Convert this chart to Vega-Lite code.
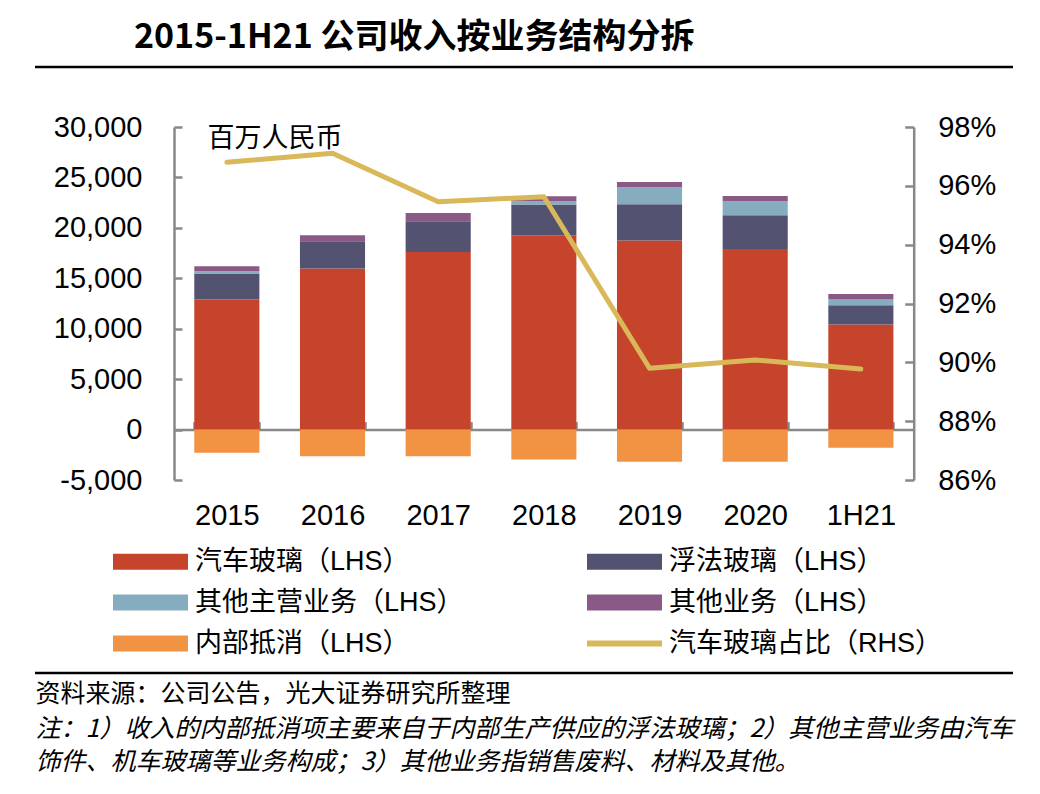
{
  "$schema": "https://vega.github.io/schema/vega-lite/v6.json",
  "width": 978,
  "height": 353,
  "autosize": "none",
  "padding": {"left": 35, "top": 127, "right": 27, "bottom": 314},
  "background": "white",
  "config": {"view": {"stroke": null}},
  "title": {
    "text": "2015-1H21 公司收入按业务结构分拆",
    "font": "Noto Sans CJK SC",
    "fontSize": 34,
    "fontWeight": "bold",
    "color": "#000000",
    "anchor": "start",
    "frame": "group",
    "dx": 99,
    "dy": 34,
    "baseline": "alphabetic",
    "offset": 18
  },
  "datasets": {
    "bars": [
      {"year": "2015", "seg": "汽车玻璃（LHS）", "k": 1, "value": 12890},
      {"year": "2015", "seg": "浮法玻璃（LHS）", "k": 2, "value": 2577},
      {"year": "2015", "seg": "其他主营业务（LHS）", "k": 3, "value": 228},
      {"year": "2015", "seg": "其他业务（LHS）", "k": 4, "value": 496},
      {"year": "2015", "seg": "内部抵消（LHS）", "k": 5, "value": -2310},
      {"year": "2016", "seg": "汽车玻璃（LHS）", "k": 1, "value": 15963},
      {"year": "2016", "seg": "浮法玻璃（LHS）", "k": 2, "value": 2707},
      {"year": "2016", "seg": "其他主营业务（LHS）", "k": 3, "value": 0},
      {"year": "2016", "seg": "其他业务（LHS）", "k": 4, "value": 594},
      {"year": "2016", "seg": "内部抵消（LHS）", "k": 5, "value": -2647},
      {"year": "2017", "seg": "汽车玻璃（LHS）", "k": 1, "value": 17618},
      {"year": "2017", "seg": "浮法玻璃（LHS）", "k": 2, "value": 3034},
      {"year": "2017", "seg": "其他主营业务（LHS）", "k": 3, "value": 0},
      {"year": "2017", "seg": "其他业务（LHS）", "k": 4, "value": 833},
      {"year": "2017", "seg": "内部抵消（LHS）", "k": 5, "value": -2647},
      {"year": "2018", "seg": "汽车玻璃（LHS）", "k": 1, "value": 19264},
      {"year": "2018", "seg": "浮法玻璃（LHS）", "k": 2, "value": 3044},
      {"year": "2018", "seg": "其他主营业务（LHS）", "k": 3, "value": 327},
      {"year": "2018", "seg": "其他业务（LHS）", "k": 4, "value": 496},
      {"year": "2018", "seg": "内部抵消（LHS）", "k": 5, "value": -2974},
      {"year": "2019", "seg": "汽车玻璃（LHS）", "k": 1, "value": 18739},
      {"year": "2019", "seg": "浮法玻璃（LHS）", "k": 2, "value": 3599},
      {"year": "2019", "seg": "其他主营业务（LHS）", "k": 3, "value": 1686},
      {"year": "2019", "seg": "其他业务（LHS）", "k": 4, "value": 535},
      {"year": "2019", "seg": "内部抵消（LHS）", "k": 5, "value": -3202},
      {"year": "2020", "seg": "汽车玻璃（LHS）", "k": 1, "value": 17916},
      {"year": "2020", "seg": "浮法玻璃（LHS）", "k": 2, "value": 3331},
      {"year": "2020", "seg": "其他主营业务（LHS）", "k": 3, "value": 1388},
      {"year": "2020", "seg": "其他业务（LHS）", "k": 4, "value": 536},
      {"year": "2020", "seg": "内部抵消（LHS）", "k": 5, "value": -3202},
      {"year": "1H21", "seg": "汽车玻璃（LHS）", "k": 1, "value": 10410},
      {"year": "1H21", "seg": "浮法玻璃（LHS）", "k": 2, "value": 1914},
      {"year": "1H21", "seg": "其他主营业务（LHS）", "k": 3, "value": 565},
      {"year": "1H21", "seg": "其他业务（LHS）", "k": 4, "value": 565},
      {"year": "1H21", "seg": "内部抵消（LHS）", "k": 5, "value": -1814}
    ],
    "ratio": [
      {"year": "2015", "ratio": 96.80},
      {"year": "2016", "ratio": 97.11},
      {"year": "2017", "ratio": 95.46},
      {"year": "2018", "ratio": 95.63},
      {"year": "2019", "ratio": 89.80},
      {"year": "2020", "ratio": 90.08},
      {"year": "1H21", "ratio": 89.77}
    ],
    "seps": [
      {"pos": 35950},
      {"pos": -24136}
    ]
  },
  "layer": [
    {
      "layer": [
        {
          "data": {"name": "bars"},
          "mark": {"type": "bar"},
          "encoding": {
            "x": {
              "field": "year",
              "type": "nominal",
              "sort": ["2015", "2016", "2017", "2018", "2019", "2020", "1H21"],
              "title": "资料来源：公司公告，光大证券研究所整理",
              "scale": {"range": [139, 878.7], "paddingInner": 0.384, "paddingOuter": 0.192},
              "axis": {
                "orient": "bottom",
                "offset": -50.4,
                "domain": true,
                "domainColor": "#888888",
                "domainWidth": 2.5,
                "ticks": true,
                "tickBand": "extent",
                "tickSize": -8,
                "tickColor": "#888888",
                "tickWidth": 2.5,
                "labelAngle": 0,
                "labelFont": "Liberation Sans",
                "labelFontSize": 29,
                "labelColor": "#000000",
                "labelPadding": 80,
                "titleFont": "Noto Sans CJK SC",
                "titleFontSize": 25,
                "titleFontWeight": "normal",
                "titleColor": "#000000",
                "titleAngle": 0,
                "titleAlign": "left",
                "titleBaseline": "middle",
                "titleX": 0,
                "titleY": 264
              }
            },
            "y": {
              "field": "value",
              "type": "quantitative",
              "stack": "zero",
              "title": "百万人民币",
              "scale": {"domain": [-5000, 30000], "nice": false, "zero": false},
              "axis": {
                "orient": "left",
                "offset": -139,
                "values": [-5000, 0, 5000, 10000, 15000, 20000, 25000, 30000],
                "labelExpr": "replace(format(datum.value, ',.0f'), '−', '-')",
                "grid": false,
                "domainColor": "#888888",
                "domainWidth": 2.5,
                "tickColor": "#888888",
                "tickWidth": 2.5,
                "tickSize": -8,
                "labelFont": "Liberation Sans",
                "labelFontSize": 29,
                "labelColor": "#000000",
                "labelPadding": 40,
                "titleFont": "Noto Sans CJK SC",
                "titleFontSize": 27,
                "titleFontWeight": "normal",
                "titleColor": "#000000",
                "titleAngle": 0,
                "titleAlign": "left",
                "titleBaseline": "middle",
                "titleX": 33,
                "titleY": 11
              }
            },
            "color": {
              "field": "seg",
              "type": "nominal",
              "scale": {
                "domain": ["汽车玻璃（LHS）", "其他主营业务（LHS）", "内部抵消（LHS）", "浮法玻璃（LHS）", "其他业务（LHS）", "汽车玻璃占比（RHS）"],
                "range": ["#C5442B", "#86ADBF", "#F29243", "#535270", "#8A5A87", "#D9B85A"]
              },
              "legend": {
                "orient": "none",
                "legendX": 78,
                "legendY": 421,
                "title": null,
                "columns": 2,
                "columnPadding": 123,
                "rowPadding": 13,
                "padding": 0,
                "labelFont": "Liberation Sans, Noto Sans CJK SC",
                "labelFontSize": 27,
                "labelColor": "#000000",
                "labelLimit": 600,
                "labelOffset": 55,
                "symbolSize": 729,
                "symbolStrokeWidth": 0,
                "symbolOpacity": 1,
                "encode": {
                  "symbols": {
                    "update": {
                      "shape": {"signal": "datum.value === '汽车玻璃占比（RHS）' ? 'M-1,-0.22H4.556V0.22H-1Z' : 'M-1,-0.59H4.556V0.59H-1Z'"},
                      "fill": {"scale": "color", "field": "value"},
                      "strokeWidth": {"value": 0},
                      "opacity": {"value": 1}
                    }
                  }
                }
              }
            },
            "order": {"field": "k", "type": "quantitative"}
          }
        },
        {
          "data": {"name": "seps"},
          "mark": {"type": "rule", "color": "#000000", "strokeWidth": 2.5},
          "encoding": {
            "y": {"field": "pos", "type": "quantitative", "title": "百万人民币"}
          }
        }
      ]
    },
    {
      "data": {"name": "ratio"},
      "mark": {"type": "line", "strokeWidth": 5, "strokeCap": "round", "strokeJoin": "round"},
      "encoding": {
        "x": {
          "field": "year",
          "type": "nominal",
          "sort": ["2015", "2016", "2017", "2018", "2019", "2020", "1H21"],
          "title": "资料来源：公司公告，光大证券研究所整理"
        },
        "y": {
          "field": "ratio",
          "type": "quantitative",
          "title": ["注：1）收入的内部抵消项主要来自于内部生产供应的浮法玻璃；2）其他主营业务由汽车", "饰件、机车玻璃等业务构成；3）其他业务指销售废料、材料及其他。"],
          "scale": {"domain": [86, 98], "nice": false, "zero": false},
          "axis": {
            "orient": "right",
            "offset": -99.3,
            "values": [86, 88, 90, 92, 94, 96, 98],
            "labelExpr": "datum.value + '%'",
            "grid": false,
            "domainColor": "#888888",
            "domainWidth": 2.5,
            "tickColor": "#888888",
            "tickWidth": 2.5,
            "tickSize": -9,
            "labelFont": "Liberation Sans",
            "labelFontSize": 29,
            "labelColor": "#000000",
            "labelPadding": 33,
            "titleFont": "Noto Sans CJK SC",
            "titleFontSize": 25,
            "titleFontWeight": "normal",
            "titleFontStyle": "italic",
            "titleColor": "#000000",
            "titleAngle": 0,
            "titleAlign": "left",
            "titleBaseline": "middle",
            "titleLineHeight": 33,
            "titleX": -878.7,
            "titleY": 601
          }
        },
        "color": {"datum": "汽车玻璃占比（RHS）", "type": "nominal"}
      }
    }
  ],
  "resolve": {"scale": {"y": "independent"}}
}
